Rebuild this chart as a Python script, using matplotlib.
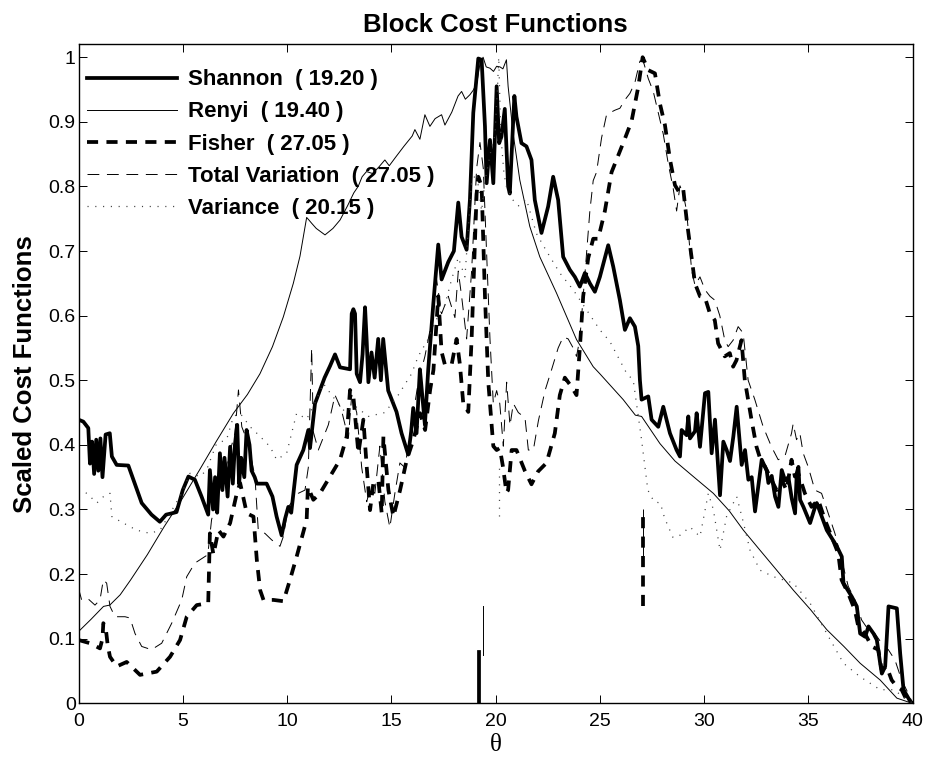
import numpy as np
import matplotlib
matplotlib.use("Agg")
import matplotlib.pyplot as plt

plt.rcParams['font.family'] = ['Liberation Sans', 'DejaVu Sans']
plt.rcParams['lines.scale_dashes'] = False

# (theta, scaled cost) samples for each block cost function
shannon = [(0.00,0.439),(0.23,0.436),(0.47,0.426),(0.55,0.371),(0.65,0.405),(0.75,0.355),(0.85,0.408),(0.95,0.360),(1.05,0.410),(1.15,0.350),(1.30,0.416),(1.50,0.418),(1.60,0.382),(1.83,0.369),(2.39,0.368),(3.03,0.310),(3.50,0.292),(3.90,0.281),(4.20,0.292),(4.47,0.294),(4.70,0.296),(5.00,0.330),(5.27,0.351),(5.58,0.346),(5.90,0.320),(6.22,0.292),(6.30,0.361),(6.45,0.300),(6.55,0.350),(6.65,0.295),(6.78,0.387),(6.90,0.330),(7.00,0.380),(7.15,0.320),(7.27,0.397),(7.40,0.340),(7.50,0.400),(7.61,0.431),(7.70,0.340),(7.80,0.380),(7.95,0.350),(8.06,0.423),(8.20,0.400),(8.30,0.360),(8.45,0.350),(8.55,0.340),(8.70,0.340),(9.02,0.340),(9.30,0.320),(9.50,0.289),(9.74,0.260),(9.90,0.285),(10.06,0.304),(10.20,0.295),(10.46,0.369),(10.78,0.392),(11.02,0.423),(11.10,0.395),(11.34,0.464),(11.58,0.485),(11.80,0.504),(12.06,0.522),(12.30,0.540),(12.54,0.520),(13.02,0.517),(13.10,0.603),(13.18,0.610),(13.26,0.603),(13.34,0.510),(13.50,0.497),(13.62,0.540),(13.74,0.613),(13.82,0.560),(13.90,0.497),(14.05,0.543),(14.20,0.504),(14.37,0.564),(14.50,0.500),(14.61,0.564),(14.85,0.484),(15.25,0.451),(15.49,0.418),(15.81,0.385),(15.95,0.420),(16.05,0.457),(16.21,0.418),(16.37,0.517),(16.50,0.470),(16.61,0.431),(16.77,0.517),(17.01,0.617),(17.25,0.710),(17.41,0.656),(17.73,0.683),(18.00,0.700),(18.21,0.775),(18.37,0.722),(18.61,0.702),(18.77,0.780),(18.93,0.914),(19.17,0.998),(19.33,0.996),(19.49,0.893),(19.57,0.805),(19.73,0.872),(19.89,0.805),(20.05,0.955),(20.17,0.867),(20.28,0.877),(20.44,0.920),(20.60,0.800),(20.68,0.789),(20.90,0.940),(21.00,0.908),(21.24,0.867),(21.48,0.862),(21.72,0.841),(21.88,0.779),(22.20,0.728),(22.52,0.769),(22.76,0.815),(23.00,0.779),(23.24,0.691),(23.56,0.671),(23.80,0.660),(24.04,0.645),(24.28,0.666),(24.52,0.650),(24.76,0.637),(25.00,0.660),(25.40,0.709),(25.64,0.676),(25.96,0.624),(26.20,0.578),(26.44,0.596),(26.68,0.583),(26.84,0.553),(26.92,0.500),(27.00,0.470),(27.32,0.475),(27.48,0.439),(27.80,0.428),(28.04,0.459),(28.36,0.418),(28.68,0.392),(28.84,0.382),(28.92,0.423),(29.16,0.415),(29.24,0.444),(29.32,0.410),(29.56,0.421),(29.64,0.449),(29.80,0.397),(30.04,0.480),(30.20,0.482),(30.36,0.387),(30.52,0.439),(30.76,0.322),(30.92,0.405),(31.08,0.392),(31.24,0.375),(31.40,0.413),(31.56,0.459),(31.80,0.369),(31.96,0.392),(32.12,0.346),(32.28,0.350),(32.44,0.297),(32.76,0.377),(33.00,0.360),(33.08,0.341),(33.24,0.352),(33.40,0.320),(33.56,0.304),(33.72,0.361),(33.88,0.345),(34.04,0.350),(34.20,0.317),(34.36,0.294),(34.44,0.356),(34.52,0.366),(34.60,0.315),(34.76,0.304),(35.08,0.279),(35.32,0.304),(35.40,0.310),(35.88,0.268),(36.36,0.243),(36.60,0.227),(36.68,0.186),(37.08,0.165),(37.32,0.150),(37.48,0.108),(37.72,0.103),(37.88,0.119),(38.12,0.108),(38.28,0.098),(38.44,0.062),(38.52,0.046),(38.68,0.057),(38.84,0.150),(39.24,0.147),(39.40,0.077),(39.56,0.021),(39.88,0.003),(40.00,0.000)]

renyi = [(0.00,0.111),(0.60,0.130),(1.20,0.150),(1.50,0.152),(2.00,0.168),(2.50,0.191),(3.30,0.230),(4.10,0.273),(5.00,0.318),(5.80,0.361),(6.60,0.405),(7.43,0.449),(8.10,0.478),(8.70,0.510),(9.30,0.552),(9.82,0.598),(10.30,0.650),(10.62,0.692),(10.94,0.752),(11.05,0.748),(11.18,0.743),(11.40,0.735),(11.82,0.725),(12.20,0.735),(12.54,0.748),(12.90,0.770),(13.20,0.790),(13.41,0.800),(13.60,0.815),(13.81,0.823),(14.10,0.820),(14.40,0.830),(14.69,0.841),(14.90,0.832),(15.20,0.845),(15.60,0.862),(16.00,0.878),(16.13,0.888),(16.37,0.873),(16.61,0.911),(16.85,0.893),(17.10,0.905),(17.41,0.911),(17.57,0.895),(17.90,0.915),(18.20,0.940),(18.37,0.947),(18.55,0.935),(18.77,0.942),(18.93,0.949),(19.10,0.960),(19.25,0.990),(19.40,1.000),(19.55,0.985),(19.73,0.983),(19.90,0.978),(20.05,0.986),(20.21,0.985),(20.35,0.982),(20.52,0.996),(20.60,0.955),(20.84,0.882),(21.16,0.810),(21.64,0.738),(22.12,0.691),(22.92,0.635),(23.88,0.563),(24.68,0.521),(25.00,0.510),(26.12,0.470),(26.70,0.446),(27.00,0.444),(27.88,0.402),(28.60,0.375),(29.48,0.351),(30.44,0.325),(31.20,0.298),(31.88,0.268),(32.60,0.240),(33.48,0.206),(34.28,0.175),(35.10,0.145),(35.88,0.114),(36.70,0.088),(37.48,0.062),(38.44,0.036),(39.24,0.008),(39.88,0.001),(40.00,0.000)]

fisher = [(0.00,0.098),(0.55,0.093),(1.03,0.085),(1.15,0.100),(1.19,0.124),(1.30,0.118),(1.40,0.090),(1.51,0.072),(1.83,0.057),(2.31,0.064),(2.95,0.044),(3.75,0.049),(4.39,0.072),(4.87,0.098),(5.19,0.134),(5.67,0.152),(6.22,0.155),(6.30,0.263),(6.47,0.230),(6.71,0.268),(6.95,0.258),(7.27,0.279),(7.59,0.325),(7.75,0.341),(8.07,0.294),(8.39,0.289),(8.55,0.222),(8.71,0.175),(8.87,0.160),(9.35,0.160),(9.83,0.158),(10.14,0.191),(10.46,0.227),(10.94,0.284),(11.00,0.335),(11.26,0.315),(11.58,0.325),(12.06,0.351),(12.54,0.377),(12.86,0.413),(13.02,0.485),(13.18,0.475),(13.42,0.387),(13.66,0.439),(13.82,0.366),(13.98,0.299),(14.14,0.341),(14.38,0.345),(14.54,0.294),(14.62,0.413),(14.86,0.330),(15.10,0.289),(15.42,0.330),(15.74,0.377),(16.06,0.408),(16.38,0.449),(16.62,0.423),(16.86,0.485),(17.02,0.516),(17.25,0.630),(17.41,0.544),(17.57,0.524),(17.89,0.524),(18.13,0.564),(18.29,0.524),(18.45,0.464),(18.69,0.451),(18.85,0.564),(19.09,0.789),(19.17,0.815),(19.33,0.800),(19.49,0.630),(19.65,0.497),(19.89,0.398),(20.05,0.392),(20.20,0.395),(20.36,0.365),(20.52,0.326),(20.60,0.330),(20.77,0.392),(21.00,0.392),(21.40,0.360),(21.72,0.339),(22.04,0.359),(22.44,0.372),(22.84,0.418),(23.08,0.477),(23.32,0.504),(23.64,0.490),(23.88,0.477),(24.04,0.550),(24.20,0.630),(24.44,0.689),(24.68,0.719),(24.92,0.719),(25.24,0.762),(25.56,0.822),(25.88,0.848),(26.20,0.874),(26.52,0.901),(26.84,0.954),(27.05,1.000),(27.32,0.980),(27.64,0.975),(27.88,0.928),(28.12,0.895),(28.36,0.842),(28.60,0.802),(28.84,0.789),(29.00,0.795),(29.16,0.749),(29.32,0.709),(29.56,0.650),(29.80,0.630),(30.04,0.628),(30.27,0.604),(30.51,0.593),(30.67,0.557),(30.99,0.537),(31.23,0.542),(31.39,0.521),(31.55,0.531),(31.79,0.562),(31.95,0.500),(32.11,0.470),(32.27,0.439),(32.51,0.397),(32.75,0.372),(32.91,0.367),(33.23,0.346),(33.47,0.330),(33.71,0.346),(33.95,0.330),(34.19,0.377),(34.35,0.351),(34.51,0.356),(34.67,0.341),(34.83,0.325),(35.15,0.304),(35.47,0.315),(35.79,0.284),(36.11,0.258),(36.43,0.232),(36.59,0.191),(36.91,0.170),(37.23,0.144),(37.39,0.119),(37.71,0.108),(38.03,0.088),(38.35,0.083),(38.51,0.052),(38.75,0.057),(38.99,0.036),(39.23,0.026),(39.47,0.021),(39.71,0.005),(40.00,0.000)]

total_variation = [(0.00,0.178),(0.15,0.160),(0.45,0.162),(0.79,0.152),(1.03,0.160),(1.19,0.191),(1.35,0.186),(1.51,0.150),(1.75,0.134),(2.23,0.134),(2.47,0.132),(2.71,0.108),(3.03,0.088),(3.50,0.083),(3.99,0.093),(4.47,0.124),(4.95,0.160),(5.19,0.196),(5.58,0.217),(6.20,0.230),(6.38,0.284),(6.86,0.341),(7.50,0.418),(7.67,0.485),(7.83,0.428),(8.14,0.402),(8.46,0.351),(8.62,0.268),(8.94,0.263),(9.26,0.253),(9.66,0.243),(9.82,0.258),(10.06,0.304),(10.54,0.325),(10.86,0.330),(11.02,0.365),(11.18,0.550),(11.26,0.420),(11.50,0.392),(11.98,0.431),(12.30,0.477),(12.60,0.455),(12.94,0.410),(13.10,0.477),(13.34,0.450),(13.58,0.365),(13.82,0.312),(13.98,0.332),(14.21,0.325),(14.45,0.398),(14.69,0.312),(14.93,0.272),(15.17,0.325),(15.41,0.372),(15.65,0.365),(15.97,0.431),(16.29,0.497),(16.61,0.537),(16.93,0.590),(17.17,0.656),(17.41,0.603),(17.73,0.630),(18.05,0.597),(18.21,0.669),(18.37,0.630),(18.61,0.564),(18.85,0.669),(19.09,0.828),(19.25,0.868),(19.41,0.828),(19.57,0.696),(19.73,0.564),(19.89,0.464),(20.05,0.484),(20.20,0.464),(20.37,0.398),(20.53,0.497),(20.69,0.430),(20.85,0.464),(21.09,0.450),(21.41,0.442),(21.57,0.392),(21.81,0.392),(22.05,0.437),(22.37,0.484),(22.69,0.517),(23.00,0.550),(23.24,0.567),(23.48,0.564),(23.72,0.550),(23.88,0.537),(24.04,0.564),(24.28,0.663),(24.52,0.762),(24.68,0.809),(24.84,0.822),(25.08,0.875),(25.32,0.911),(25.48,0.914),(25.72,0.918),(25.96,0.921),(26.20,0.934),(26.44,0.944),(26.68,0.961),(26.92,0.994),(27.08,0.994),(27.32,0.967),(27.56,0.947),(27.80,0.914),(28.04,0.881),(28.28,0.835),(28.52,0.796),(28.68,0.762),(28.84,0.801),(29.00,0.788),(29.16,0.762),(29.40,0.670),(29.56,0.647),(29.80,0.660),(30.04,0.640),(30.28,0.630),(30.51,0.624),(30.75,0.600),(30.99,0.562),(31.15,0.552),(31.39,0.562),(31.63,0.583),(31.87,0.573),(32.11,0.500),(32.43,0.470),(32.83,0.428),(33.23,0.397),(33.55,0.377),(33.87,0.382),(34.19,0.418),(34.27,0.433),(34.43,0.408),(34.59,0.418),(34.75,0.387),(34.99,0.366),(35.31,0.330),(35.63,0.325),(35.95,0.294),(36.27,0.263),(36.59,0.222),(36.91,0.181),(37.23,0.160),(37.55,0.129),(37.87,0.114),(38.19,0.108),(38.51,0.093),(38.83,0.083),(39.15,0.067),(39.47,0.036),(39.79,0.015),(40.00,0.000)]

variance = [(0.00,0.330),(0.40,0.325),(0.88,0.310),(1.20,0.320),(1.51,0.325),(1.60,0.289),(2.15,0.279),(2.79,0.268),(3.43,0.263),(3.91,0.268),(4.39,0.294),(4.95,0.325),(5.35,0.356),(5.83,0.351),(6.14,0.361),(6.62,0.402),(7.10,0.408),(7.43,0.444),(7.75,0.449),(8.23,0.428),(8.71,0.413),(9.19,0.397),(9.50,0.377),(9.98,0.387),(10.46,0.449),(10.94,0.440),(11.26,0.459),(11.74,0.495),(12.14,0.477),(12.78,0.451),(13.26,0.460),(13.90,0.444),(14.69,0.450),(15.33,0.477),(15.97,0.510),(16.29,0.537),(16.77,0.564),(17.09,0.590),(17.57,0.617),(17.89,0.656),(18.21,0.690),(18.53,0.660),(18.85,0.808),(19.09,0.820),(19.33,0.762),(19.49,0.808),(19.81,0.861),(19.97,0.880),(20.10,0.960),(20.15,1.000),(20.25,0.880),(20.40,0.820),(20.52,0.800),(20.80,0.780),(21.10,0.770),(21.48,0.780),(21.96,0.727),(22.44,0.700),(23.08,0.666),(23.72,0.640),(24.36,0.609),(25.00,0.578),(25.48,0.560),(26.28,0.511),(26.60,0.500),(26.99,0.410),(27.30,0.330),(27.60,0.312),(27.90,0.310),(28.10,0.287),(28.50,0.257),(28.76,0.258),(29.32,0.273),(29.80,0.258),(30.20,0.325),(30.44,0.300),(30.76,0.237),(31.08,0.290),(31.56,0.320),(31.88,0.280),(32.20,0.237),(32.68,0.206),(33.32,0.196),(34.28,0.186),(35.08,0.155),(35.88,0.108),(36.68,0.062),(37.48,0.041),(38.44,0.021),(39.08,0.021),(39.56,0.010),(40.00,0.000)]

names = ['Shannon', 'Renyi', 'Fisher', 'Total Variation', 'Variance']
peaks = [19.20, 19.40, 27.05, 27.05, 20.15]
# vertical extent of the short peak markers near the bottom
marker_lo = [0.000, 0.075, 0.150, 0.225, 0.290]
marker_hi = [0.080, 0.150, 0.300, 0.300, 0.370]

# line styles: width, dash pattern (None = solid), colour
styles = [
    dict(lw=2.7, dashes=None, color='black'),
    dict(lw=0.7, dashes=None, color='black'),
    dict(lw=2.7, dashes=(8.0, 6.0), color='black'),
    dict(lw=0.7, dashes=(8.5, 5.5), color='black'),
    dict(lw=0.9, dashes=(0.8, 4.8), color='0.25'),
]

fig = plt.figure(figsize=(9.27, 7.59), dpi=100)
ax = fig.add_axes([78.5 / 927, 1 - 703.3 / 759, 834.2 / 927, 659.0 / 759])

series = [shannon, renyi, fisher, total_variation, variance]
for k, (data, name, pk, st) in enumerate(zip(series, names, peaks, styles)):
    th, val = np.array(data).T
    kw = dict(color=st['color'], lw=st['lw'], solid_joinstyle='round', dash_joinstyle='round')
    if st['dashes'] is not None:
        kw['dashes'] = st['dashes']
    ax.plot(th, val, label='%s  ( %.2f )' % (name, pk), **kw)
    ax.plot([pk, pk], [marker_lo[k], marker_hi[k]], **kw)

ax.set_xlim(0, 40)
ax.set_ylim(0, 1.02)
ax.set_xticks(np.arange(0, 41, 5))
ax.set_yticks(np.arange(0, 1.01, 0.1))
ax.set_yticklabels(['0', '0.1', '0.2', '0.3', '0.4', '0.5', '0.6', '0.7', '0.8', '0.9', '1'])
ax.tick_params(direction='in', length=6, width=0.7, top=True, right=True, labelsize=14)
ax.tick_params(axis='x', pad=7)
ax.tick_params(axis='y', pad=2)
for sp in ax.spines.values():
    sp.set_linewidth(1.0)

ax.set_title('Block Cost Functions', fontsize=18.5, fontweight='bold', pad=9)
ax.set_ylabel('Scaled Cost Functions', fontsize=18.5, fontweight='bold', labelpad=8)
ax.set_xlabel('θ', fontsize=18, family=['Liberation Serif', 'DejaVu Serif'], labelpad=3)

leg = ax.legend(loc='upper left', bbox_to_anchor=(0.0102, 0.962), frameon=False,
                borderaxespad=0, borderpad=0, handlelength=4.05, handletextpad=0.5,
                labelspacing=0.5, prop=dict(size=16, weight='bold'))

fig.savefig('out.png', dpi=100)
